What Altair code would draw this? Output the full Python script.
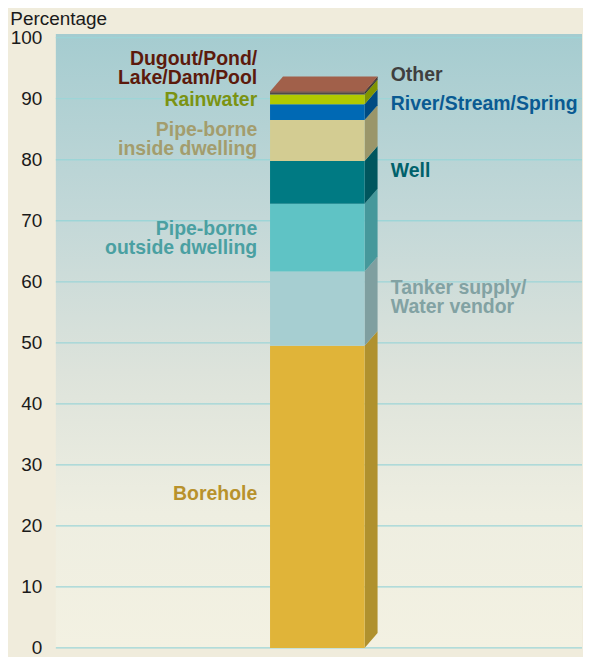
import altair as alt
import numpy as np
import pandas as pd

# ---------------- data ----------------
sources = ["Borehole", "Tanker supply/Water vendor", "Pipe-borne outside dwelling",
           "Well", "Pipe-borne inside dwelling", "River/Stream/Spring",
           "Rainwater", "Other", "Dugout/Pond/Lake/Dam/Pool"]
shares = [49.5, 12.2, 11.1, 7.0, 6.7, 2.6, 1.6, 0.3, 0.2]

label_texts = ["Borehole", "Tanker supply/\nWater vendor", "Pipe-borne\noutside dwelling",
               "Well", "Pipe-borne\ninside dwelling", "River/Stream/Spring",
               "Rainwater", "Other", "Dugout/Pond/\nLake/Dam/Pool"]
label_sides = ["left", "right", "left", "right", "left", "right", "left", "right", "left"]
# position of each label's first line
label_pos = [25.3, 58.9, 68.6, 78.1, 84.9, 89.2, 89.8, 93.9, 96.5]

y_ticks = list(range(0, 101, 10))

# ---------------- styles ----------------
front_colors = ["#e0b439", "#a6ced1", "#5fc3c5", "#007a83", "#d3cc92",
                "#0069b4", "#b1c900", "#4e4a48", "#6a2a1a"]
side_colors = ["#b0912e", "#7f9fa0", "#46989b", "#00565e", "#9a966a",
               "#004b82", "#809400", "#333333", "#4a1a10"]
label_colors = ["#b8922c", "#82a2a3", "#4aa0a2", "#00616b", "#a39d6d",
                "#0a5a92", "#7b9312", "#3f3f3f", "#5c1a0c"]
top_color = "#a1604a"

X_MAX = 98.5
Y_MAX = 100.6
BAR_L, BAR_R = 40.1, 57.8
DX, DY = 2.43, 2.45
LEFT_X, RIGHT_X = 37.7, 62.7
FONT = "Liberation Sans"

hi = np.cumsum(shares)
lo = hi - np.array(shares)
top = float(hi[-1])

front_df = pd.DataFrame({"source": sources, "x": BAR_L, "x2": BAR_R, "y": lo, "y2": hi})

side_rows = []
for s, a, b in zip(sources, lo, hi):
    side_rows.append({"source": s, "x": BAR_R, "y": a, "y2": b})
    side_rows.append({"source": s, "x": BAR_R + DX, "y": a + DY, "y2": b + DY})
side_df = pd.DataFrame(side_rows)

top_df = pd.DataFrame({
    "x": [BAR_L, BAR_L + DX, BAR_R, BAR_R + DX],
    "y": [top, top, top, top + DY],
    "y2": [top, top + DY, top + DY, top + DY],
})

labels_df = pd.DataFrame({"source": sources, "text": label_texts,
                          "side": label_sides, "pos": label_pos})

grid_df = pd.DataFrame({"v": y_ticks, "x": 0.0, "x2": X_MAX})
bg_df = pd.DataFrame({"x": [0.0], "x2": [X_MAX], "y": [0.0], "y2": [Y_MAX]})

xs = alt.Scale(domain=[0, X_MAX], nice=False, zero=False)
ys = alt.Scale(domain=[0, Y_MAX], nice=False)

W, H = 528, 616

bg = alt.Chart(bg_df).mark_rect(
    fill=alt.Gradient(
        gradient="linear", x1=0, x2=0, y1=0, y2=1,
        stops=[alt.GradientStop(color="#a5ccd0", offset=0),
               alt.GradientStop(color="#c3d8d8", offset=0.3),
               alt.GradientStop(color="#dde3db", offset=0.55),
               alt.GradientStop(color="#eeeee1", offset=0.78),
               alt.GradientStop(color="#f3f1e2", offset=1)]),
).encode(
    x=alt.X("x:Q", scale=xs, axis=None), x2="x2:Q",
    y=alt.Y("y:Q", scale=ys,
            axis=alt.Axis(values=y_ticks, title=None, ticks=False, domain=False, grid=False,
                          labelFontSize=19, labelFont=FONT, labelColor="#1a1a1a",
                          labelPadding=14)),
    y2="y2:Q",
)

grid = alt.Chart(grid_df).mark_rule(color="#9dd5d7", strokeWidth=1.3).encode(
    x=alt.X("x:Q", scale=xs), x2="x2:Q", y=alt.Y("v:Q", scale=ys))

front = alt.Chart(front_df).mark_rect().encode(
    x=alt.X("x:Q", scale=xs), x2="x2:Q",
    y=alt.Y("y:Q", scale=ys), y2="y2:Q",
    color=alt.Color("source:N", scale=alt.Scale(domain=sources, range=front_colors), legend=None),
)

side = alt.Chart(side_df).mark_area(opacity=1).encode(
    x=alt.X("x:Q", scale=xs),
    y=alt.Y("y:Q", scale=ys, stack=None), y2="y2:Q",
    detail="source:N",
    fill=alt.Fill("source:N", scale=alt.Scale(domain=sources, range=side_colors), legend=None),
)

topface = alt.Chart(top_df).mark_area(color=top_color, opacity=1).encode(
    x=alt.X("x:Q", scale=xs),
    y=alt.Y("y:Q", scale=ys, stack=None), y2="y2:Q",
)

def label_layer(side_name, xpos, align):
    return alt.Chart(labels_df).transform_filter(
        alt.datum.side == side_name
    ).transform_calculate(xp=str(xpos)).mark_text(
        align=align, baseline="middle", font=FONT, fontWeight="bold",
        fontSize=19.5, lineBreak="\n", lineHeight=19,
    ).encode(
        x=alt.X("xp:Q", scale=xs), y=alt.Y("pos:Q", scale=ys),
        text="text:N",
        color=alt.Color("source:N", scale=alt.Scale(domain=sources, range=label_colors), legend=None),
    )

left_labels = label_layer("left", LEFT_X, "right")
right_labels = label_layer("right", RIGHT_X, "left")

chart = alt.layer(bg, grid, side, topface, front, left_labels, right_labels).resolve_scale(
    color="independent", fill="independent"
).properties(
    width=W, height=H,
    padding={"left": 2, "top": 0, "right": 0, "bottom": 0},
    title=alt.TitleParams("Percentage", anchor="start", frame="bounds", fontSize=19,
                          fontWeight="normal", font=FONT, color="#1a1a1a", offset=0),
).configure(background="#f0ecdc").configure_view(stroke=None)

chart.save("out.html", embed_options={"renderer": "svg", "actions": False})
